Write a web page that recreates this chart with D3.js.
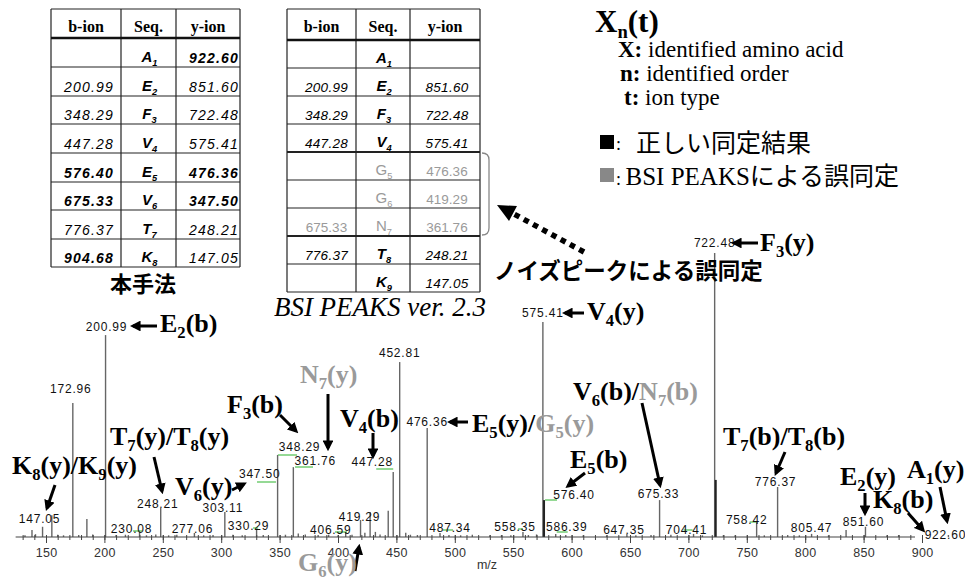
<!DOCTYPE html>
<html><head><meta charset="utf-8">
<script src="https://cdn.jsdelivr.net/npm/d3@7"></script>
<style>body{margin:0;background:#fff}svg{display:block}</style>
</head><body><svg id="c" width="965" height="579"></svg>
<script>
// ---------------- DATA ----------------
const t1B   = ["", "200.99","348.29","447.28","576.40","675.33","776.37","904.68"];
const t1Seq = ["A_1","E_2","F_3","V_4","E_5","V_6","T_7","K_8"];
const t1Y   = ["922.60","851.60","722.48","575.41","476.36","347.50","248.21","147.05"];
const t1BoldB = [0,0,0,0,1,1,0,1];
const t1BoldY = [1,0,0,0,1,1,0,0];

const t2B   = ["", "200.99","348.29","447.28","","","675.33","776.37",""];
const t2Seq = ["A_1","E_2","F_3","V_4","G_5","G_6","N_7","T_8","K_9"];
const t2Y   = ["", "851.60","722.48","575.41","476.36","419.29","361.76","248.21","147.05"];
const t2Wrong = [0,0,0,0,1,1,1,0,0];

const headers = ["b-ion","Seq.","y-ion"];

// spectrum peaks [m/z, relative intensity %]
const peaks = [[132,0.6],[138,2.5],[141,1.0],[147.05,3.6],[155,7.7],[160,0.8],[165,0.6],[172.96,47.2],[178,0.7],[185,6.3],[190,0.9],[200.99,71.1],[210,0.7],[218,0.8],[230.08,2.2],[236,0.6],[244,0.9],[248.21,10.2],[255,0.6],[262,0.8],[277.06,1.4],[285,0.6],[293,0.7],[303.11,8.8],[310,0.8],[318,0.6],[330.29,2.5],[336,0.7],[348.29,28.9],[355,0.8],[361.76,24.6],[366,1.2],[372,0.9],[383,0.7],[392,0.8],[400,0.6],[406.59,1.8],[412,0.8],[419.29,6.0],[423,1.5],[427.5,8.8],[432,1.8],[436,0.9],[443,9.2],[447.28,22.9],[452.81,61.6],[458,1.5],[462,0.8],[468,0.7],[476.36,38.4],[487.34,1.4],[495,0.7],[505,0.6],[515,0.8],[530,0.6],[540,0.7],[548,0.6],[558.35,1.8],[563,0.7],[570,0.9],[575.41,75.7],[576.40,13.0],[586.39,1.1],[595,0.7],[610,0.6],[630,0.6],[647.35,1.1],[655,0.6],[668,0.7],[675.33,13.0],[685,0.8],[704.41,1.1],[712,0.6],[722.48,100],[723.4,20.1],[730,0.7],[740,0.6],[758.42,5.3],[765,0.6],[776.37,17.6],[785,0.7],[795,0.6],[805.47,1.1],[820,0.6],[835,2.5],[851.60,3.6],[870,0.6],[880,0.7],[922.60,0.7]];

// labelled m/z values
const labelMz = [147.05,172.96,200.99,230.08,248.21,277.06,303.11,330.29,347.50,348.29,361.76,406.59,419.29,447.28,452.81,476.36,487.34,558.35,575.41,576.40,586.39,647.35,675.33,704.41,722.48,758.42,776.37,805.47,851.60,922.60];

const majorTicks = [150,200,250,300,350,400,450,500,550,600,650,700,750,800,850,900];
const minorTicks = d3.range(130, 900, 10);

// annotation texts ("_" = subscript next char, "~" = grey from here)
const annText = ["E_2(b)","F_3(y)","V_4(y)","~N_7(y)","F_3(b)","V_4(b)","E_5(y)/~G_5(y)","E_5(b)","V_6(b)/~N_7(b)","T_7(b)/T_8(b)","E_2(y)","A_1(y)","K_8(b)","T_7(y)/T_8(y)","K_8(y)/K_9(y)","V_6(y)","~G_6(y)"];

// ---------------- LAYOUT ----------------
const labelPos = [[-3,519],[-2,389],[1,327],[-8,529],[-3,504],[-2,529],[-2,508],[-8,526],[-17,474],[22,447],[22,461],[-15,530],[-1,517],[-21,462],[0,353],[0,422],[10,528],[-8,527],[0,313],[30,495],[11,527],[-3,530],[-1,494],[-7,530],[0,243],[-10,520],[-2,482],[0,528],[-2,522],[-3,535]];
const greenLeaders = [[230.08,-6.5,2.5,531],[330.29,-3.5,1.5,528],[347.50,-19.7,-0.7,482],[348.29,0.4,19.4,455],[361.76,1.7,19.7,467],[406.59,-10.7,1.3,532],[447.28,-17,0,469],[487.34,3,13,530],[558.35,-5,0,529],[576.40,1,13,500],[586.39,1,12,532],[704.41,-10,-1,530],[758.42,-7,0,522]];
const annPos = [[160,332],[760,251],[587,320],[300,383],[227,413],[340,427],[472,432],[570,468],[573,400],[723,445],[840,485],[907,478],[873,508],[110,445],[12,474],[175,495],[298,571]];
const arrows = [[157,326,133,326],[758,243,734,243],[584,313,565,313],[468,422,450,422],[328,394,328,448],[280,415,296,431],[373,433,373,456],[585,473,568,486],[642,403,660,485],[785,452,776,473],[865,493,865,513],[940,487,947,521],[908,513,923,530],[154,457,162,491],[55,485,47,508],[232,490,244,484],[355,571,359,547]];

const SERIF = "'Liberation Serif','Times New Roman',serif";
const SANS  = "'Liberation Sans',Arial,sans-serif";
const JP    = "'Noto Sans CJK JP','Noto Sans CJK SC',sans-serif";
const GREY  = "#9a9a9a";

const svg = d3.select("#c");
const defs = svg.append("defs");
defs.append("marker").attr("id","ah").attr("viewBox","0 0 10 10")
  .attr("refX",7).attr("refY",5).attr("markerWidth",3.6).attr("markerHeight",3.6)
  .attr("orient","auto").append("path").attr("d","M0,0 L10,5 L0,10 z").attr("fill","#000");

// rich text helper
function rich(parent, str, x, y, o) {
  const t = parent.append("text").attr("x",x).attr("y",y)
    .attr("font-family",o.family).attr("font-size",o.size)
    .attr("font-weight",o.weight||"normal").attr("font-style",o.style||"normal")
    .attr("fill",o.fill||"#000").attr("text-anchor",o.anchor||"start");
  if (o.ls) t.attr("letter-spacing",o.ls);
  const runs=[]; let grey=false;
  for (let i=0;i<str.length;i++){
    const c=str[i];
    if (c==="~"){grey=true;continue;}
    if (c==="_"){runs.push({t:str[i+1],sub:true,grey});i++;continue;}
    const last=runs[runs.length-1];
    if (last && !last.sub && last.grey===grey) last.t+=c; else runs.push({t:c,sub:false,grey});
  }
  const shift = o.size*(o.subShift||0.22);
  let prevSub=false;
  runs.forEach(r=>{
    const ts=t.append("tspan").text(r.t);
    if (r.grey) ts.attr("fill", o.greyFill||GREY);
    if (r.sub){ ts.attr("font-size", o.size*(o.subScale||0.64)).attr("dy", shift); prevSub=true; }
    else if (prevSub){ ts.attr("dy",-shift); prevSub=false; }
  });
  return t;
}

// ---------------- SPECTRUM ----------------
const x = d3.scaleLinear().domain([150,900]).range([46,922]);
const y = d3.scaleLinear().domain([0,100]).range([537,253]);

const spec = svg.append("g");
spec.selectAll("line.pk").data(peaks).join("line").attr("class","pk")
  .attr("x1",d=>x(d[0])).attr("x2",d=>x(d[0]))
  .attr("y1",y(0)).attr("y2",d=>y(d[1]))
  .attr("stroke",d=>(d[0]===576.40||d[0]===723.4)?"#222":"#666")
  .attr("stroke-width",d=>(d[0]===576.40||d[0]===723.4)?2:1.4);

// baseline
spec.append("line").attr("x1",x(124)).attr("x2",x(894)).attr("y1",537).attr("y2",537)
  .attr("stroke","#444").attr("stroke-width",1.2);

const axMinor = d3.axisBottom(x).tickValues(minorTicks).tickSize(5).tickFormat("");
const axMajor = d3.axisBottom(x).tickValues(majorTicks).tickSize(8).tickPadding(5).tickFormat(d3.format("d"));
const gMin = svg.append("g").attr("transform","translate(0,535)").call(axMinor);
const gMaj = svg.append("g").attr("transform","translate(0,535)").call(axMajor);
[gMin,gMaj].forEach(g=>{ g.select(".domain").remove(); g.selectAll(".tick line").attr("stroke","#444").attr("stroke-width",1); });
gMaj.selectAll(".tick text").attr("font-family",SANS).attr("font-size",12.5).attr("fill","#333").attr("letter-spacing",0.3);

svg.append("text").attr("x",487).attr("y",569).attr("text-anchor","middle")
  .attr("font-family",SANS).attr("font-size",12.5).attr("fill","#333").text("m/z");

// green leaders
spec.selectAll("line.gl").data(greenLeaders).join("line").attr("class","gl")
  .attr("x1",d=>x(d[0])+d[1]).attr("x2",d=>x(d[0])+d[2]).attr("y1",d=>d[3]).attr("y2",d=>d[3])
  .attr("stroke","#5cc45c").attr("stroke-width",1.3);

// peak labels
spec.selectAll("text.pl").data(labelMz).join("text").attr("class","pl")
  .attr("x",(d,i)=>x(d)+labelPos[i][0]).attr("y",(d,i)=>labelPos[i][1]+4)
  .attr("text-anchor","middle").attr("font-family",SANS).attr("font-size",12)
  .attr("letter-spacing",0.8).attr("fill","#111").text(d=>d3.format(".2f")(d));

// annotation arrows
svg.selectAll("line.ar").data(arrows).join("line").attr("class","ar")
  .attr("x1",d=>d[0]).attr("y1",d=>d[1]).attr("x2",d=>d[2]).attr("y2",d=>d[3])
  .attr("stroke","#000").attr("stroke-width",3).attr("marker-end","url(#ah)");

// annotations
annText.forEach((s,i)=>rich(svg,s,annPos[i][0],annPos[i][1],{family:SERIF,size:26,weight:"bold"}));

// ---------------- TABLES ----------------
function drawTable(opt){
  const g = svg.append("g");
  const cx = opt.cols, rows = opt.rows;
  const top = opt.top, hb = opt.headBottom;
  headers.forEach((h,j)=>{
    g.append("text").attr("x",(cx[j]+cx[j+1])/2).attr("y",top+23)
      .attr("text-anchor","middle").attr("font-family",SERIF).attr("font-weight","bold")
      .attr("font-size",16).text(h);
  });
  const bottom = rows[rows.length-1];
  cx.forEach(xx=>g.append("line").attr("x1",xx).attr("x2",xx).attr("y1",top).attr("y2",bottom).attr("stroke","#222").attr("stroke-width",1.2));
  g.append("line").attr("x1",cx[0]).attr("x2",cx[3]).attr("y1",top).attr("y2",top).attr("stroke","#222").attr("stroke-width",1.2);
  g.append("line").attr("x1",cx[0]).attr("x2",cx[3]).attr("y1",hb).attr("y2",hb).attr("stroke","#111").attr("stroke-width",2.4);
  rows.forEach((ry,i)=>{
    const thick = opt.thick && opt.thick.includes(i);
    g.append("line").attr("x1",cx[0]).attr("x2",cx[3]).attr("y1",ry).attr("y2",ry)
      .attr("stroke", "#222").attr("stroke-width",thick?2.2:1.2);
  });
  opt.seq.forEach((s,i)=>{
    const base = rows[i]-4;
    const wrong = opt.wrong && opt.wrong[i];
    const numStyle = (bold)=>({family:SANS,size:opt.fs,style:wrong?"normal":"italic",weight:bold?"bold":"normal",anchor:"middle",ls:wrong?0:opt.ls,fill:wrong?GREY:"#000"});
    if (opt.b[i]) rich(g,opt.b[i],(cx[0]+cx[1])/2+opt.dxB,base,numStyle(opt.boldB&&opt.boldB[i]));
    if (opt.y[i]) rich(g,opt.y[i],(cx[2]+cx[3])/2+opt.dxY,base,numStyle(opt.boldY&&opt.boldY[i]));
    rich(g,s,(cx[1]+cx[2])/2+1,base-1,{family:SANS,size:15,style:wrong?"normal":"italic",weight:wrong?"normal":"bold",anchor:"middle",fill:wrong?GREY:"#000",subShift:0.25,subScale:0.62});
  });
  return g;
}

const rows1 = [67,96,124,153,182,210,239,267];
drawTable({cols:[51,121,176,240],top:9,headBottom:38,rows:rows1,b:t1B,seq:t1Seq,y:t1Y,boldB:t1BoldB,boldY:t1BoldY,fs:14,ls:1.2,dxB:3,dxY:6});
const rows2 = [68,96,124,152,180,208,236,264,292];
drawTable({cols:[287,356,410,480],top:9,headBottom:40,rows:rows2,b:t2B,seq:t2Seq,y:t2Y,wrong:t2Wrong,fs:13.5,ls:0.3,dxB:5,dxY:2,thick:[3,6]});

svg.append("text").attr("x",143).attr("y",292).attr("text-anchor","middle")
  .attr("font-family",JP).attr("font-weight","bold").attr("font-size",22).text("本手法");
svg.append("text").attr("x",380).attr("y",316).attr("text-anchor","middle")
  .attr("font-family",SERIF).attr("font-style","italic").attr("font-size",27).text("BSI PEAKS ver. 2.3");

// bracket
svg.append("path").attr("d","M482,153 Q489,153 489,160 L489,228 Q489,235 482,235")
  .attr("fill","none").attr("stroke","#888").attr("stroke-width",1.3);

// dotted arrow
svg.append("line").attr("x1",584).attr("y1",252).attr("x2",514).attr("y2",214)
  .attr("stroke","#000").attr("stroke-width",5.5).attr("stroke-dasharray","5.5 5");
svg.append("path").attr("d","M497,205 L517,206 L509,221 Z").attr("fill","#000");

svg.append("text").attr("x",494).attr("y",279).attr("font-family",JP).attr("font-weight","bold")
  .attr("font-size",22.5).text("ノイズピークによる誤同定");

// ---------------- LEGEND ----------------
rich(svg,"X_n(t)",595,32,{family:SERIF,size:31,weight:"bold",subShift:0.2,subScale:0.6});
const lg = [["X",": identified amino acid",618,57],["n",": identified order",620,81],["t",": ion type",624,105]];
lg.forEach(d=>{
  const t=svg.append("text").attr("x",d[2]).attr("y",d[3]).attr("font-family",SERIF).attr("font-size",23);
  t.append("tspan").attr("font-weight","bold").text(d[0]+":");
  t.append("tspan").text(d[1].slice(1));
});
svg.append("rect").attr("x",600).attr("y",135).attr("width",14).attr("height",14).attr("fill","#000");
svg.append("text").attr("x",616).attr("y",150).attr("font-family",SERIF).attr("font-size",18).text(":");
svg.append("text").attr("x",636).attr("y",152).attr("font-family",JP).attr("font-size",25).text("正しい同定結果");
svg.append("rect").attr("x",600).attr("y",168).attr("width",14).attr("height",14).attr("fill","#888");
const l2=svg.append("text").attr("x",616).attr("y",185).attr("font-size",25);
l2.append("tspan").attr("font-family",SERIF).attr("font-size",18).text(": ");
l2.append("tspan").attr("font-family",SERIF).attr("font-size",25).text("BSI PEAKS");
l2.append("tspan").attr("font-family",JP).attr("font-size",25).text("による誤同定");
</script></body></html>
